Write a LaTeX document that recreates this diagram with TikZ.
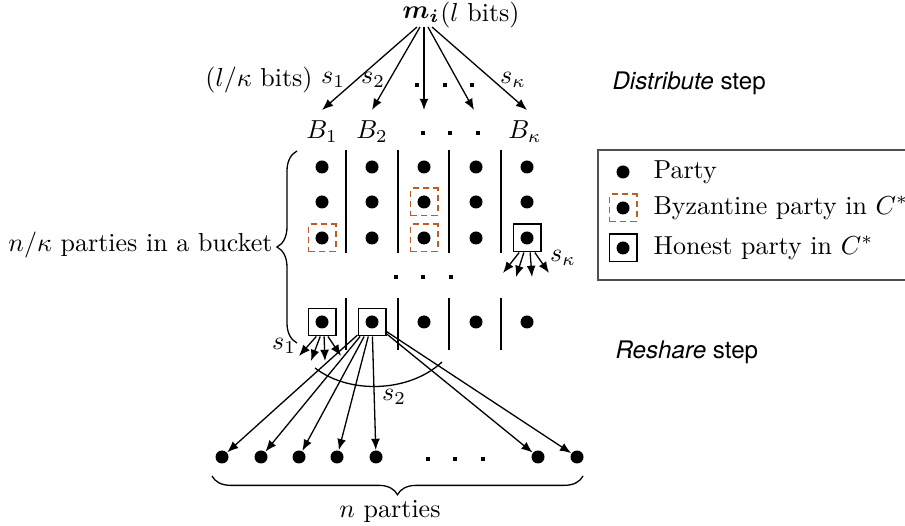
\documentclass[tikz,border=0pt]{standalone}
\usepackage{amsmath,bm}
\usepackage{fontspec}
\newfontfamily\helv{TeX Gyre Heros}
\usetikzlibrary{arrows.meta,decorations.pathreplacing}
\definecolor{byzcol}{RGB}{190,92,36}
\definecolor{legcol}{RGB}{80,80,80}
\tikzset{
  party/.style={circle,fill,inner sep=0pt,minimum size=5pt},
  byz/.style={draw=byzcol,dash pattern=on 2.4pt off 1.6pt,line width=0.75pt,minimum size=10.4pt,inner sep=0pt},
  hon/.style={draw,line width=0.75pt,minimum size=10.4pt,inner sep=0pt},
  arr/.style={-{Latex[length=4.3pt,width=3.4pt]},line width=0.5pt},
  sepline/.style={line width=0.6pt},
  ellip/.style={rectangle,fill,inner sep=0pt,minimum size=1.4pt},
  lbl/.style={inner sep=0pt},
  stepfont/.style={font=\helv\fontsize{9.3pt}{11pt}\selectfont,inner sep=0pt,anchor=west},
}
\begin{document}
\begin{tikzpicture}[x=0.3846pt,y=-0.3846pt]
\useasboundingbox (0,0) rectangle (905,526);

% ---- top message
\node[lbl] (mi) at (421,15) {$\boldsymbol{m_i}$};
\node[lbl,anchor=west] (lb) at (mi.east) {($l$ bits)};

% arrow end points
\coordinate (e1) at (322,110);
\coordinate (e2) at (372,110);
\coordinate (e3) at (424,110);
\coordinate (e4) at (474,110);
\coordinate (e5) at (527,110);
\coordinate (o1) at (417,27);
\coordinate (o2) at (420,27);
\coordinate (o3) at (424,27);
\coordinate (o4) at (428,27);
\coordinate (o5) at (432,27);
\draw[arr] (o1) -- (e1);
\draw[arr] (o2) -- (e2);
\draw[arr] (o3) -- (e3);
\draw[arr] (o4) -- (e4);
\draw[arr] (o5) -- (e5);

\node[lbl] (lk) at (259,80) {($l/\kappa$ bits)};
\node[lbl] (s1t) at (333,80) {$s_1$};
\node[lbl] (s2t) at (373,80) {$s_2$};
\node[ellip] (td1) at (417,85) {};
\node[ellip] (td2) at (445,85) {};
\node[ellip] (td3) at (472,85) {};
\node[lbl] (skt) at (513,80) {$s_\kappa$};

\node[stepfont] (dist) at (612,83) {\itshape Distribute\upshape\ step};
\node[stepfont] (resh) at (615,352) {\itshape Reshare\upshape\ step};

% ---- bucket labels
\node[lbl] (B1) at (322,132) {$B_1$};
\node[lbl] (B2) at (372,132) {$B_2$};
\node[ellip] (bd1) at (423,133) {};
\node[ellip] (bd2) at (450,133) {};
\node[ellip] (bd3) at (478,133) {};
\node[lbl] (Bk) at (525,132) {$B_\kappa$};

% ---- separators
\foreach \x in {346,398,449,501}{
  \draw[sepline] (\x,150) -- (\x,253);
  \draw[sepline] (\x,298) -- (\x,350);
}

% ---- parties grid
\foreach \x/\c in {322/1,372/2,424/3,476/4,527/5}{
  \node[party] (p1\c) at (\x,167) {};
  \node[party] (p2\c) at (\x,202) {};
  \node[party] (p3\c) at (\x,238) {};
  \node[party] (p4\c) at (\x,322) {};
}
\node[ellip] (md1) at (396,277) {};
\node[ellip] (md2) at (423,277) {};
\node[ellip] (md3) at (451,277) {};

% byzantine boxes
\node[byz] (bz1) at (322,238) {};
\node[byz] (bz2) at (424,202) {};
\node[byz] (bz3) at (424,238) {};
% honest boxes
\node[hon] (hk) at (527,238) {};
\node[hon] (h1) at (322,322) {};
\node[hon] (h2) at (372,322) {};

% s_kappa fan
\coordinate (k1) at (503,273);
\coordinate (k2) at (516,277);
\coordinate (k3) at (532,277);
\coordinate (k4) at (549,273);
\draw[arr] ([xshift=-3pt]hk.south) -- (k1);
\draw[arr] ([xshift=-1.2pt]hk.south) -- (k2);
\draw[arr] ([xshift=1.2pt]hk.south) -- (k3);
\draw[arr] ([xshift=3pt]hk.south) -- (k4);
\node[lbl] (skl) at (563,258) {$s_\kappa$};

% s_1 fan
\coordinate (f1) at (299,356);
\coordinate (f2) at (311,361);
\coordinate (f3) at (325,361);
\coordinate (f4) at (341,356);
\draw[arr] ([xshift=-2.2pt]h1.south) -- (f1);
\draw[arr] ([xshift=-0.7pt]h1.south) -- (f2);
\draw[arr] ([xshift=0.8pt]h1.south) -- (f3);
\draw[arr] ([xshift=2.3pt]h1.south) -- (f4);
\node[lbl] (s1l) at (284,346) {$s_1$};

% left brace
\draw[line width=0.5pt,decorate,decoration={brace,amplitude=7.7pt}] (297,343) -- (297,151);
\node[lbl,anchor=east] (bucket) at (273,245) {$n/\kappa$ parties in a bucket};

% ---- bottom parties
\foreach \x/\c in {222/1,261/2,299/3,337/4,376/5,538/6,577/7}{
  \node[party] (q\c) at (\x,457) {};
}
\node[ellip] (bt1) at (428,459) {};
\node[ellip] (bt2) at (455,459) {};
\node[ellip] (bt3) at (483,459) {};

\foreach \c in {1,2,3,4,5,6,7}{
  \draw[arr] (h2) -- (q\c);
}

% arc for s_2
\coordinate (arcL) at (315,368);
\coordinate (arcR) at (442,362);
\draw[line width=0.5pt] (arcL) .. controls (350,395) and (410,392) .. (arcR);
\node[lbl] (s2l) at (394,397) {$s_2$};

% bottom brace
\draw[line width=0.5pt,decorate,decoration={brace,amplitude=7.2pt}] (583,476) -- (212,476);
\node[lbl] (np) at (390,511) {$n$ parties};

% ---- legend
\draw[legcol,line width=0.6pt] (598,150) rectangle (910,280);
\node[party] (lg1) at (623,172) {};
\node[lbl,anchor=west] (lt1) at (653,172) {Party};
\node[byz] (lgb) at (623,208) {};
\node[party] (lg2) at (623,208) {};
\node[lbl,anchor=west] (lt2) at (653,208) {Byzantine party in $C^*$};
\node[hon] (lgh) at (623,248) {};
\node[party] (lg3) at (623,248) {};
\node[lbl,anchor=west] (lt3) at (653,248) {Honest party in $C^*$};
\end{tikzpicture}
\end{document}
